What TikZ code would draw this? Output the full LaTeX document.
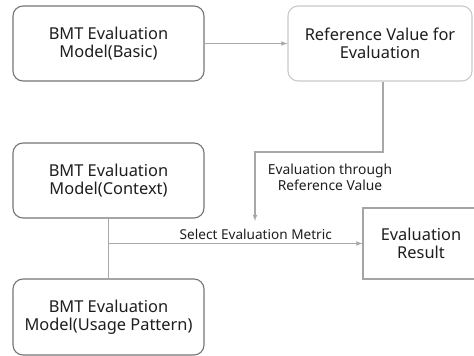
\documentclass[tikz,border=0pt]{standalone}
\usepackage{fontspec}
\setmainfont{Noto Sans}
\usepackage{xcolor}
\usepackage{tikz}
\usetikzlibrary{arrows}
\usetikzlibrary{positioning}

\definecolor{boxline}{HTML}{757575}
\definecolor{paleline}{HTML}{CACACA}
\definecolor{midline}{HTML}{A4A4A4}
\definecolor{linkline}{HTML}{A8A8A8}
\definecolor{txt}{HTML}{1E1E1E}

\tikzset{
  model/.style={draw=boxline, line width=1.1pt, rounded corners=10pt,
    minimum width=191pt, minimum height=75pt, align=center,
    font=\fontsize{16.4}{17.5}\selectfont, text=txt},
  link/.style={draw=linkline, line width=1.1pt, >=latex}
}

\begin{document}
\begin{tikzpicture}[x=1pt, y=-1pt]
    \useasboundingbox (0,0) rectangle (474,356);

    \node(basic) [model] at (108.5, 43.5) {BMT Evaluation\\Model(Basic)};

    \node(refval) [model, draw=paleline, minimum width=184pt] at (380, 43.5)
      {Reference Value for\\Evaluation};
    \draw[link, ->] (basic) -- (refval);

    \node(context) [model] at (108.5, 180.5) {BMT Evaluation\\Model(Context)};

    \node(usage) [model, minimum height=76pt] at (108.5, 317)
      {BMT Evaluation\\Model(Usage Pattern)};
    \draw[link] (context) -- (usage);

    % right side runs off the page
    \node(result) [model, draw=midline, rounded corners=0pt,
      minimum width=116pt, minimum height=71pt] at (421, 243.5)
      {Evaluation\\Result};

    \coordinate (turn) at (255, 152);
    \coordinate (evaltip) at (255, 221);
    \draw[link, ->] ([xshift=3pt]refval.south) |- (turn) -- (evaltip);
    \node(evallabel) [align=center, text=txt, font=\fontsize{13.8}{16}\selectfont]
      at (330, 177) {Evaluation through\\Reference Value};

    \draw[link, ->] (context.south |- result.west) -- (result.west)
      node [pos=0.58, above = 0pt, text=txt, font=\fontsize{13.6}{16}\selectfont]
      {Select Evaluation Metric};
  \end{tikzpicture}
\end{document}
